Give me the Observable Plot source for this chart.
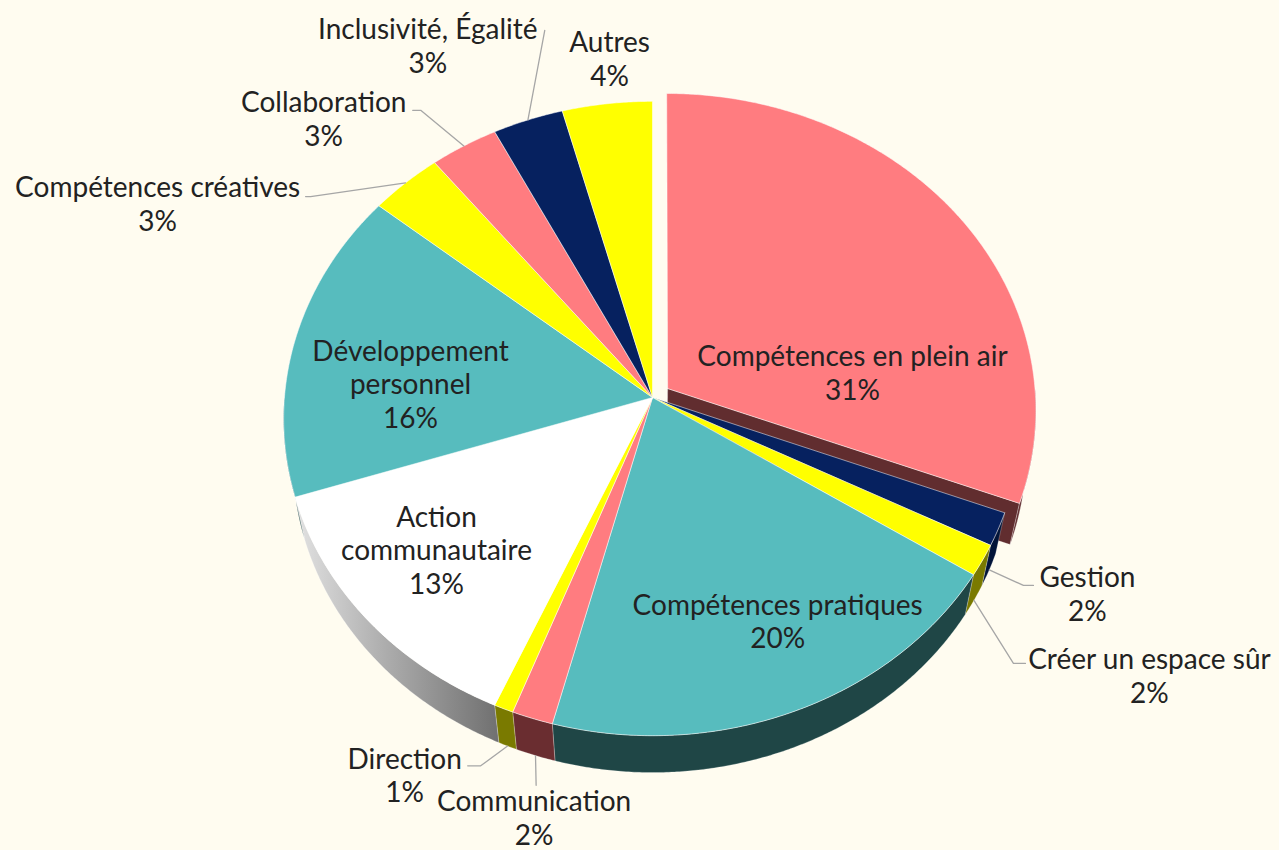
<!DOCTYPE html>
<html><head><meta charset="utf-8">
<script src="https://cdn.jsdelivr.net/npm/d3@7"></script>
<script src="https://cdn.jsdelivr.net/npm/@observablehq/plot@0.6"></script>
<style>
body{margin:0;background:#fffcf0;}
#chart svg{display:block;}
</style></head>
<body><div id="chart"></div>
<script>
// ---- data ----
const names = ["Compétences en plein air","Gestion","Créer un espace sûr","Compétences pratiques","Communication","Direction","Action communautaire","Développement personnel","Compétences créatives","Collaboration","Inclusivité, Égalité","Autres"];
const values = [30.8,1.7,1.6,20.0,1.7,0.8,13.4,15.9,3.4,3.2,3.3,4.2];
const labelText = ["Compétences en plein air","Gestion","Créer un espace sûr","Compétences pratiques","Communication","Direction","Action\ncommunautaire","Développement\npersonnel","Compétences créatives","Collaboration","Inclusivité, Égalité","Autres"];
const topColors = ["#ff7c80","#06215f","#ffff00","#57bcbe","#ff7c80","#ffff00","#ffffff","#57bcbe","#ffff00","#ff7c80","#06215f","#ffff00"];
const sideColors = ["#612d2f","#021438","#7a7a00","#1f4646","#6a2d30","#7a7a00","url(#sideGrad)","#1f4646","#7a7a00","#6a2d30","#021438","#7a7a00"];
const explode = [0.05,0,0,0,0,0,0,0,0,0,0,0];

// ---- layout (label position in pie space: angle deg, radius) ----
const labelAngle = [81.7,117.7,123.1,154.3,193.6,209.4,230.6,273.9,294.55,314.7,331.3,353.8];
const labelRadius = [0.552,1.282,1.523,0.749,1.257,1.271,0.736,0.661,1.541,1.335,1.373,1.163];
const leaderOffsets = [null,[[-64,-8],[-54,-8]],[[-136,-12],[-124,-12]],null,[[2,-32]],[[76,-9],[63,-9]],null,null,[[153,-7],[148,-7]],[[97,-8],[89,-8]],[[117,-15]],null];

// ---- projection (perspective 3D pie) ----
const W = 1279, Hgt = 850;
const P = {cx:652, cy:397, F:2856, s:0.858, c:0.514, D:7.76, h:0.233};
function proj(deg, r, H, off){
  const t = deg*Math.PI/180;
  let X = r*Math.sin(t), Z = r*Math.cos(t);
  if (off){ X += off[0]; Z += off[1]; }
  const U = Z*P.s + H*P.c, Wd = P.D + Z*P.c - H*P.s;
  return [P.cx + P.F*X/Wd, P.cy - P.F*U/Wd];
}
function arcPts(a0,a1,r,H,off){
  const n = Math.max(2, Math.ceil(Math.abs(a1-a0)/0.4));
  return d3.range(n+1).map(i => proj(a0+(a1-a0)*i/n, r, H, off));
}

const arcs = d3.pie().sort(null).value(d=>d)(values);
const slices = arcs.map((a,i)=>{
  const a0 = a.startAngle*180/Math.PI, a1 = a.endAngle*180/Math.PI, mid=(a0+a1)/2;
  const e = explode[i], mr = mid*Math.PI/180;
  return {i, a0, a1, mid, off:[e*Math.sin(mr), e*Math.cos(mr)]};
});

const explodedLayer = [], sideLayer = [], topLayer = [];
function addPoly(layer, id, pts, fill){
  pts.forEach(([x,y])=>layer.push({id, x, y, fill}));
  layer.push({id, x:pts[0][0], y:pts[0][1], fill});
}
function buildSlice(sl, layerSide, layerTop){
  const {i,a0,a1,off} = sl, hh = -P.h;
  if (explode[i] > 0){
    if (a1 > 0 && a1 < 180) addPoly(layerSide, "end"+i, [proj(a1,0,0,off),proj(a1,1,0,off),proj(a1,1,hh,off),proj(a1,0,hh,off)], sideColors[i]);
    if (a0 > 180 && a0 < 360) addPoly(layerSide, "start"+i, [proj(a0,0,0,off),proj(a0,1,0,off),proj(a0,1,hh,off),proj(a0,0,hh,off)], sideColors[i]);
  }
  const b0 = Math.max(a0,90), b1 = Math.min(a1,270);
  if (b1 > b0){
    const top = arcPts(b0,b1,1,0,off), bot = arcPts(b0,b1,1,hh,off).reverse();
    addPoly(layerSide, "side"+i, [...top, ...bot], sideColors[i]);
  }
  addPoly(layerTop, "top"+i, [proj(0,0,0,off), ...arcPts(a0,a1,1,0,off)], topColors[i]);
}
const explodedTop = [];
slices.forEach(sl=>{
  if (explode[sl.i] > 0) buildSlice(sl, explodedLayer, explodedTop);
  else buildSlice(sl, sideLayer, topLayer);
});

// labels
const pct = values.map(v => `${Math.round(v)}%`);
const labels = slices.map(sl=>{
  const [x,y] = proj(labelAngle[sl.i], labelRadius[sl.i], 0, null);
  return {x, y, text: labelText[sl.i] + "\n" + pct[sl.i]};
});
// leader lines
const leaders = [];
slices.forEach(sl=>{
  const lo = leaderOffsets[sl.i]; if (!lo) return;
  const back = Math.cos(sl.mid*Math.PI/180) >= 0;
  const start = proj(sl.mid, 1, back ? 0 : -P.h, sl.off);
  const lab = labels[sl.i];
  leaders.push({id:sl.i, x:start[0], y:start[1]});
  lo.forEach(([dx,dy])=>leaders.push({id:sl.i, x:lab.x+dx, y:lab.y+dy}));
});

const chart = Plot.plot({
  width: W, height: Hgt, margin: 0,
  x: {domain:[0,W], range:[0,W], axis:null},
  y: {domain:[0,Hgt], range:[0,Hgt], axis:null},
  color: {type:"identity"},
  style: {background:"#fffcf0", fontFamily:"Lato"},
  marks: [
    Plot.line(explodedLayer, {x:"x", y:"y", z:"id", fill:"fill", stroke:"#ffffff", strokeOpacity:0.35, strokeWidth:0.8}),
    Plot.line(explodedTop, {x:"x", y:"y", z:"id", fill:"fill", stroke:"#ffffff", strokeOpacity:0.5, strokeWidth:1}),
    Plot.line(sideLayer, {x:"x", y:"y", z:"id", fill:"fill", stroke:"#ffffff", strokeOpacity:0.3, strokeWidth:0.8}),
    Plot.line(topLayer, {x:"x", y:"y", z:"id", fill:"fill", stroke:"#ffffff", strokeOpacity:0.5, strokeWidth:1}),
    Plot.line(leaders, {x:"x", y:"y", z:"id", stroke:"#a6a6a6", strokeWidth:1.3}),
    Plot.text(labels, {x:"x", y:"y", text:"text", fontSize:28, fontFamily:"Lato", fill:"#222222", lineHeight:1.2})
  ]
});
const defs = document.createElementNS("http://www.w3.org/2000/svg","defs");
defs.innerHTML = '<linearGradient id="sideGrad" x1="0" x2="1" y1="0" y2="0"><stop offset="0" stop-color="#e2e2e2"/><stop offset="0.45" stop-color="#acacac"/><stop offset="1" stop-color="#707070"/></linearGradient>';
chart.prepend(defs);
document.getElementById("chart").appendChild(chart);
</script></body></html>
